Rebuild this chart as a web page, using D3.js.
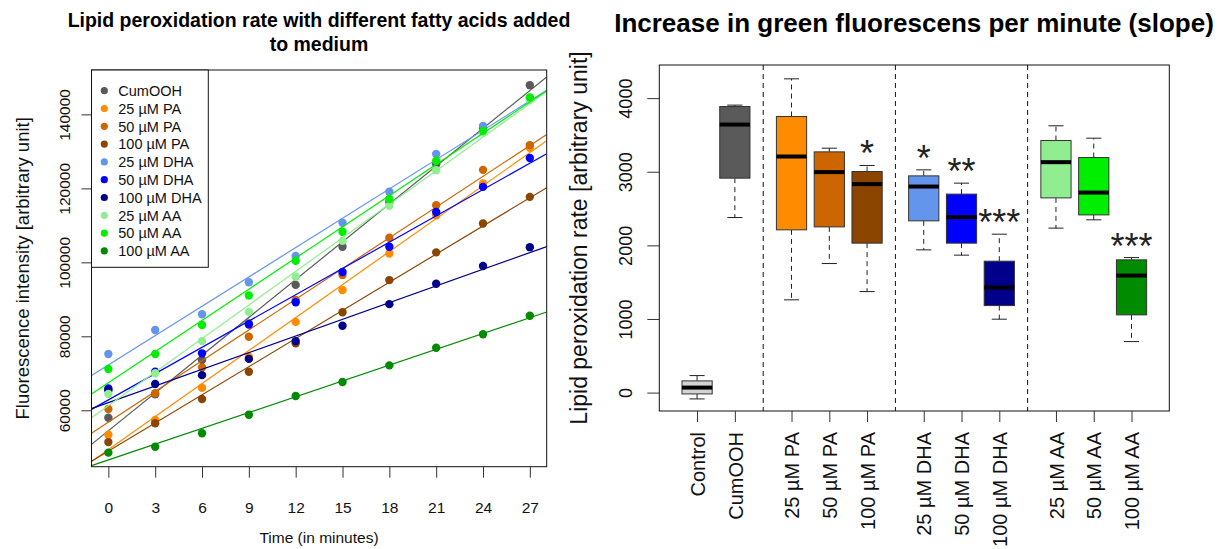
<!DOCTYPE html>
<html lang="en">
<head>
<meta charset="UTF-8">
<title>Lipid peroxidation</title>
<script src="https://d3js.org/d3.v7.min.js"></script>
<style>
    body, html {
        margin: 0;
        padding: 0;
        background: white;
    }
    svg {
        display: block;
        font-family: 'Liberation Sans', Arial, sans-serif;
    }
</style>
</head>
<body>
<script>
'use strict'

// left plot: fluorescence readings per time point
const times = [0, 3, 6, 9, 12, 15, 18, 21, 24, 27]
const seriesNames = ['CumOOH', '25 µM PA', '50 µM PA', '100 µM PA', '25 µM DHA', '50 µM DHA', '100 µM DHA', '25 µM AA', '50 µM AA', '100 µM AA']
const seriesColors = ['#5a5a5a', '#ff8c00', '#cd6600', '#8b4500', '#6495ed', '#0000ff', '#00008b', '#90ee90', '#00ee00', '#008b00']

const cumOOH = [58000, 64300, 73600, 83500, 93900, 104200, 116300, 126500, 136300, 147900]
const pa25 = [53400, 57400, 66100, 74500, 83900, 92500, 102400, 112700, 121350, 131000]
const pa50 = [60350, 64600, 71600, 79900, 89800, 96600, 106650, 115450, 125000, 131700]
const pa100 = [51400, 56500, 63050, 70400, 78100, 86500, 95200, 102700, 110500, 117700]
const dha25 = [75200, 81700, 85950, 94600, 101700, 110700, 119100, 129300, 136900, 144400]
const dha50 = [65900, 70400, 75400, 83200, 89200, 97400, 104200, 113600, 120400, 128200]
const dha100 = [65400, 67100, 69500, 73900, 78700, 82850, 88700, 94200, 99000, 104100]
const aa25 = [64400, 70000, 78700, 86600, 96100, 105800, 115300, 124900, 135100, 143900]
const aa50 = [71150, 75200, 83050, 91050, 100400, 108250, 117100, 127450, 135550, 144600]
const aa100 = [48550, 50150, 53800, 58800, 63850, 67650, 72150, 76900, 80550, 85550]
const seriesValues = [cumOOH, pa25, pa50, pa100, dha25, dha50, dha100, aa25, aa50, aa100]

const leftYTicks = [60000, 80000, 100000, 120000, 140000]

// right plot: slope boxplots
const boxNames = ['Control', 'CumOOH', '25 µM PA', '50 µM PA', '100 µM PA', '25 µM DHA', '50 µM DHA', '100 µM DHA', '25 µM AA', '50 µM AA', '100 µM AA']
const boxSection = [0, 0, 1, 1, 1, 2, 2, 2, 3, 3, 3]
const boxFill = ['#d3d3d3', '#5a5a5a', '#ff8c00', '#cd6600', '#8b4500', '#6495ed', '#0000ff', '#00008b', '#90ee90', '#00ee00', '#008b00']
const whiskerLow = [-86, 2378, 1260, 1753, 1372, 1939, 1867, 997, 2234, 2347, 693]
const q1 = [-18, 2913, 2211, 2251, 2030, 2333, 2030, 1182, 2645, 2414, 1056]
const medians = [68, 3641, 3207, 2995, 2832, 2799, 2383, 1427, 3130, 2717, 1590]
const q3 = [159, 3886, 3750, 3270, 3003, 2944, 2696, 1785, 3424, 3193, 1803]
const whiskerHigh = [231, 3905, 4262, 3320, 3085, 3026, 2845, 2152, 3624, 3456, 1834]
const stars = ['', '', '', '', '*', '*', '**', '***', '', '', '***']

const rightYTicks = [0, 1000, 2000, 3000, 4000]

const W = 1221, H = 549

const svg = d3.select('body').append('svg')
    .attr('width', W)
    .attr('height', H)

// ---------- left plot ----------
const L = {left: 91.5, right: 546.7, top: 70, bottom: 466.7}

const x = d3.scaleLinear().domain([-1.08, 28.08]).range([L.left, L.right])
const y = d3.scaleLinear().domain([44750, 152000]).range([L.bottom, L.top])

svg.append('clipPath').attr('id', 'clipLeft')
    .append('rect')
    .attr('x', L.left).attr('y', L.top)
    .attr('width', L.right - L.left).attr('height', L.bottom - L.top)

function fit(vals) {
    const mx = d3.mean(times), my = d3.mean(vals)
    let sxy = 0, sxx = 0
    times.forEach((t, i) => {
        sxy += (t - mx) * (vals[i] - my)
        sxx += (t - mx) * (t - mx)
    })
    const b = sxy / sxx
    return {a: my - b * mx, b: b}
}

const plotArea = svg.append('g').attr('clip-path', 'url(#clipLeft)')

seriesValues.forEach((vals, k) => {
    plotArea.selectAll(null)
        .data(vals)
        .enter()
        .append('circle')
        .attr('cx', (d, i) => x(times[i]))
        .attr('cy', d => y(d))
        .attr('r', 4.2)
        .attr('fill', seriesColors[k])

    const f = fit(vals)
    const [d0, d1] = x.domain()
    plotArea.append('line')
        .attr('x1', x(d0)).attr('y1', y(f.a + f.b * d0))
        .attr('x2', x(d1)).attr('y2', y(f.a + f.b * d1))
        .attr('stroke', seriesColors[k])
        .attr('stroke-width', 1.2)
})

svg.append('rect')
    .attr('x', L.left).attr('y', L.top)
    .attr('width', L.right - L.left).attr('height', L.bottom - L.top)
    .attr('fill', 'none')
    .attr('stroke', '#111')

const xAxisL = svg.append('g')
    .attr('transform', `translate(0, ${L.bottom})`)
    .call(d3.axisBottom(x).tickValues(times).tickSize(11).tickPadding(24))
xAxisL.select('.domain').remove()
xAxisL.selectAll('line').attr('stroke', '#333')
xAxisL.selectAll('text')
    .attr('font-size', 15.5)
    .attr('font-family', null)
    .attr('fill', '#111')

const yAxisL = svg.append('g')
    .attr('transform', `translate(${L.left}, 0)`)
    .call(d3.axisLeft(y).tickValues(leftYTicks).tickSize(10).tickFormat(d3.format('d')))
yAxisL.select('.domain').remove()
yAxisL.selectAll('line').attr('stroke', '#333')
yAxisL.selectAll('text')
    .attr('font-size', 15.5)
    .attr('font-family', null)
    .attr('fill', '#111')
    .attr('text-anchor', 'middle')
    .attr('transform', 'rotate(-90)')
    .attr('x', 0)
    .attr('y', -21.5)
    .attr('dy', 0)

// legend
const legend = svg.append('g')
legend.append('rect')
    .attr('x', L.left).attr('y', L.top)
    .attr('width', 116.8).attr('height', 197.3)
    .attr('fill', 'white')
    .attr('stroke', '#111')

legend.selectAll('circle')
    .data(seriesNames)
    .enter()
    .append('circle')
    .attr('cx', 104.3)
    .attr('cy', (d, i) => 90.7 + i * 17.8)
    .attr('r', 3.6)
    .attr('fill', (d, i) => seriesColors[i])

legend.selectAll('text')
    .data(seriesNames)
    .enter()
    .append('text')
    .text(d => d)
    .attr('x', 118.3)
    .attr('y', (d, i) => 90.7 + i * 17.8)
    .attr('dy', '0.36em')
    .attr('font-size', 14.5)
    .attr('fill', '#111')

// labels
svg.append('text')
    .text('Lipid peroxidation rate with different fatty acids added')
    .attr('x', 319).attr('y', 27)
    .attr('text-anchor', 'middle')
    .attr('font-weight', 'bold')
    .attr('font-size', 19.5)
svg.append('text')
    .text('to medium')
    .attr('x', 319).attr('y', 51)
    .attr('text-anchor', 'middle')
    .attr('font-weight', 'bold')
    .attr('font-size', 19.5)

svg.append('text')
    .text('Time (in minutes)')
    .attr('x', 319).attr('y', 543)
    .attr('text-anchor', 'middle')
    .attr('font-size', 15.5)
    .attr('fill', '#111')

svg.append('text')
    .text('Fluorescence intensity [arbitrary unit]')
    .attr('transform', `translate(29, ${(L.top + L.bottom) / 2}) rotate(-90)`)
    .attr('text-anchor', 'middle')
    .attr('font-size', 18.5)
    .attr('fill', '#111')

// ---------- right plot ----------
const R = {left: 659.3, right: 1169.3, top: 65, bottom: 411}

const slot = boxNames.map((d, i) => i + 0.5 * boxSection[i])
const xR = d3.scaleLinear().domain([-1, 12.5]).range([R.left, R.right])
const yR = d3.scaleLinear().domain([-250, 4450]).range([R.bottom, R.top])
const halfBox = (xR(0.4) - xR(0))
const halfStaple = halfBox / 2

// dashed separators between groups
const seps = []
for (let i = 1; i < slot.length; i++) {
    if (boxSection[i] !== boxSection[i - 1]) seps.push((slot[i] + slot[i - 1]) / 2)
}
svg.selectAll('.sep')
    .data(seps)
    .enter()
    .append('line')
    .attr('class', 'sep')
    .attr('x1', d => xR(d)).attr('x2', d => xR(d))
    .attr('y1', R.top).attr('y2', R.bottom)
    .attr('stroke', '#111')
    .attr('stroke-dasharray', '5,4')

const boxes = svg.selectAll('.box')
    .data(boxNames)
    .enter()
    .append('g')
    .attr('class', 'box')
    .attr('transform', (d, i) => `translate(${xR(slot[i])}, 0)`)

// whiskers
boxes.append('line')
    .attr('y1', (d, i) => yR(q3[i])).attr('y2', (d, i) => yR(whiskerHigh[i]))
    .attr('stroke', '#222').attr('stroke-dasharray', '5,4')
boxes.append('line')
    .attr('y1', (d, i) => yR(q1[i])).attr('y2', (d, i) => yR(whiskerLow[i]))
    .attr('stroke', '#222').attr('stroke-dasharray', '5,4')
boxes.append('line')
    .attr('x1', -halfStaple).attr('x2', halfStaple)
    .attr('y1', (d, i) => yR(whiskerHigh[i])).attr('y2', (d, i) => yR(whiskerHigh[i]))
    .attr('stroke', '#222')
boxes.append('line')
    .attr('x1', -halfStaple).attr('x2', halfStaple)
    .attr('y1', (d, i) => yR(whiskerLow[i])).attr('y2', (d, i) => yR(whiskerLow[i]))
    .attr('stroke', '#222')

boxes.append('rect')
    .attr('x', -halfBox)
    .attr('width', 2 * halfBox)
    .attr('y', (d, i) => yR(q3[i]))
    .attr('height', (d, i) => yR(q1[i]) - yR(q3[i]))
    .attr('fill', (d, i) => boxFill[i])
    .attr('stroke', '#333')

boxes.append('line')
    .attr('x1', -halfBox).attr('x2', halfBox)
    .attr('y1', (d, i) => yR(medians[i])).attr('y2', (d, i) => yR(medians[i]))
    .attr('stroke', 'black')
    .attr('stroke-width', 4)

boxes.append('text')
    .text((d, i) => stars[i])
    .attr('y', (d, i) => yR(whiskerHigh[i]) + 1)
    .attr('text-anchor', 'middle')
    .attr('font-size', 36)
    .attr('fill', '#222')

svg.append('rect')
    .attr('x', R.left).attr('y', R.top)
    .attr('width', R.right - R.left).attr('height', R.bottom - R.top)
    .attr('fill', 'none')
    .attr('stroke', '#111')

const xAxisR = svg.append('g')
    .attr('transform', `translate(0, ${R.bottom})`)
    .call(d3.axisBottom(xR).tickValues(slot).tickSize(11).tickFormat((d, i) => boxNames[i]))
xAxisR.select('.domain').remove()
xAxisR.selectAll('line').attr('stroke', '#333')
xAxisR.selectAll('text')
    .attr('font-size', 20)
    .attr('font-family', null)
    .attr('fill', '#111')
    .attr('text-anchor', 'end')
    .attr('transform', 'rotate(-90)')
    .attr('x', -21)
    .attr('y', 0)
    .attr('dy', '0.36em')

const yAxisR = svg.append('g')
    .attr('transform', `translate(${R.left}, 0)`)
    .call(d3.axisLeft(yR).tickValues(rightYTicks).tickSize(12).tickFormat(d3.format('d')))
yAxisR.select('.domain').remove()
yAxisR.selectAll('line').attr('stroke', '#333')
yAxisR.selectAll('text')
    .attr('font-size', 18)
    .attr('font-family', null)
    .attr('fill', '#111')
    .attr('text-anchor', 'middle')
    .attr('transform', 'rotate(-90)')
    .attr('x', 0)
    .attr('y', -27.3)
    .attr('dy', 0)

svg.append('text')
    .text('Increase in green fluorescens per minute (slope)')
    .attr('x', 914).attr('y', 32)
    .attr('text-anchor', 'middle')
    .attr('font-weight', 'bold')
    .attr('font-size', 26)

svg.append('text')
    .text('Lipid peroxidation rate [arbitrary unit]')
    .attr('transform', `translate(587, ${(R.top + R.bottom) / 2}) rotate(-90)`)
    .attr('text-anchor', 'middle')
    .attr('font-size', 23)
    .attr('fill', '#111')
</script>
</body>
</html>
